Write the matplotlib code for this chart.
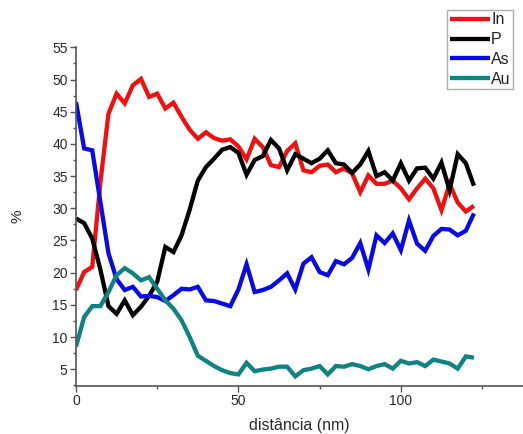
import numpy as np
import matplotlib
matplotlib.use("Agg")
import matplotlib.pyplot as plt
from matplotlib.ticker import MultipleLocator

plt.rcParams['font.family'] = ['Liberation Sans', 'DejaVu Sans']

# distance along the profile (nm), 2.5 nm step
distance = np.arange(50) * 2.5

in_pct = [17.3, 20.1, 20.9, 34.0, 44.7, 47.8, 46.3, 49.1, 50.1, 47.3,
          47.8, 45.5, 46.4, 44.2, 42.2, 40.8, 41.8, 40.9, 40.5, 40.7,
          39.6, 37.6, 40.8, 39.5, 36.7, 36.4, 38.9, 40.1, 35.9, 35.6,
          36.6, 36.8, 35.6, 36.2, 35.4, 32.5, 35.1, 33.8, 33.8, 34.3,
          33.1, 31.4, 33.1, 34.6, 33.1, 29.7, 33.8, 30.9, 29.5, 30.4]

p_pct = [28.4, 27.7, 25.3, 20.5, 14.8, 13.6, 15.7, 13.4, 14.7, 16.4,
         18.6, 24.0, 23.2, 25.8, 29.8, 34.3, 36.4, 37.7, 39.1, 39.5,
         38.6, 35.2, 37.5, 38.1, 40.6, 39.3, 35.9, 38.4, 37.7, 37.0,
         37.7, 39.0, 37.0, 36.8, 35.5, 36.8, 38.9, 35.0, 35.6, 34.3,
         37.0, 34.3, 36.2, 36.3, 34.6, 37.1, 32.8, 38.4, 37.0, 33.5]

as_pct = [46.5, 39.3, 39.0, 31.0, 23.0, 19.0, 17.3, 17.8, 16.3, 16.4,
          16.2, 15.6, 16.5, 17.5, 17.4, 17.8, 15.7, 15.6, 15.2, 14.8,
          17.4, 21.3, 17.0, 17.3, 17.8, 18.8, 19.9, 17.4, 21.4, 22.4,
          20.1, 19.6, 21.8, 21.3, 22.3, 24.6, 20.5, 25.8, 24.6, 26.1,
          23.5, 28.1, 24.5, 23.4, 25.7, 26.8, 26.7, 25.8, 26.5, 29.2]

au_pct = [8.5, 13.1, 14.8, 14.8, 17.0, 19.6, 20.7, 19.9, 18.8, 19.3,
          17.5, 15.7, 14.4, 12.6, 10.0, 7.1, 6.3, 5.5, 4.85, 4.4,
          4.2, 6.0, 4.7, 4.95, 5.1, 5.4, 5.4, 3.9, 4.85, 5.1,
          5.5, 4.2, 5.5, 5.4, 5.8, 5.5, 5.0, 5.5, 5.8, 5.1,
          6.3, 5.9, 6.1, 5.5, 6.5, 6.2, 5.9, 5.1, 7.0, 6.8]

labels = ["In", "P", "As", "Au"]
colors = ["#f01010", "#000000", "#0a0ae6", "#0f8282"]

fig = plt.figure(figsize=(5.23, 4.34), dpi=100)
ax = fig.add_axes([0.1453, 0.1106, 0.8547, 0.7804])

lw = 3.1
for vals, lab, col in zip([in_pct, p_pct, as_pct, au_pct], labels, colors):
    ax.plot(distance, vals, color=col, lw=lw, label=lab,
            solid_joinstyle='miter', solid_capstyle='butt')

ax.set_xlim(0, 137.6)
ax.set_ylim(2.4, 55)
ax.xaxis.set_major_locator(MultipleLocator(50))
ax.xaxis.set_minor_locator(MultipleLocator(25))
ax.yaxis.set_major_locator(MultipleLocator(5))
ax.yaxis.set_minor_locator(MultipleLocator(2.5))

for s in ["top", "right"]:
    ax.spines[s].set_visible(False)
for s in ["left", "bottom"]:
    ax.spines[s].set_color("#555555")
    ax.spines[s].set_linewidth(1.2)

ax.tick_params(which="major", direction="out", length=4, width=1.0,
               color="#555555", labelsize=10, labelcolor="#2a2a2a", pad=2)
ax.tick_params(which="minor", direction="out", length=2.5, width=1.0,
               color="#555555")

ax.set_xlabel("distância (nm)", fontsize=11.5, color="#2a2a2a", labelpad=7)
ax.set_ylabel("%", fontsize=11, color="#2a2a2a", labelpad=20)

leg = fig.legend(loc="upper right", bbox_to_anchor=(0.981, 0.977),
                 bbox_transform=fig.transFigure, fontsize=11.5,
                 handlelength=2.5, handletextpad=0.1, labelspacing=0.3,
                 borderpad=0.15, borderaxespad=0, fancybox=False,
                 frameon=True)
leg.get_frame().set_edgecolor("#999999")
leg.get_frame().set_linewidth(1.0)
for t in leg.get_texts():
    t.set_color("#222222")

fig.savefig("out.png", dpi=100)
